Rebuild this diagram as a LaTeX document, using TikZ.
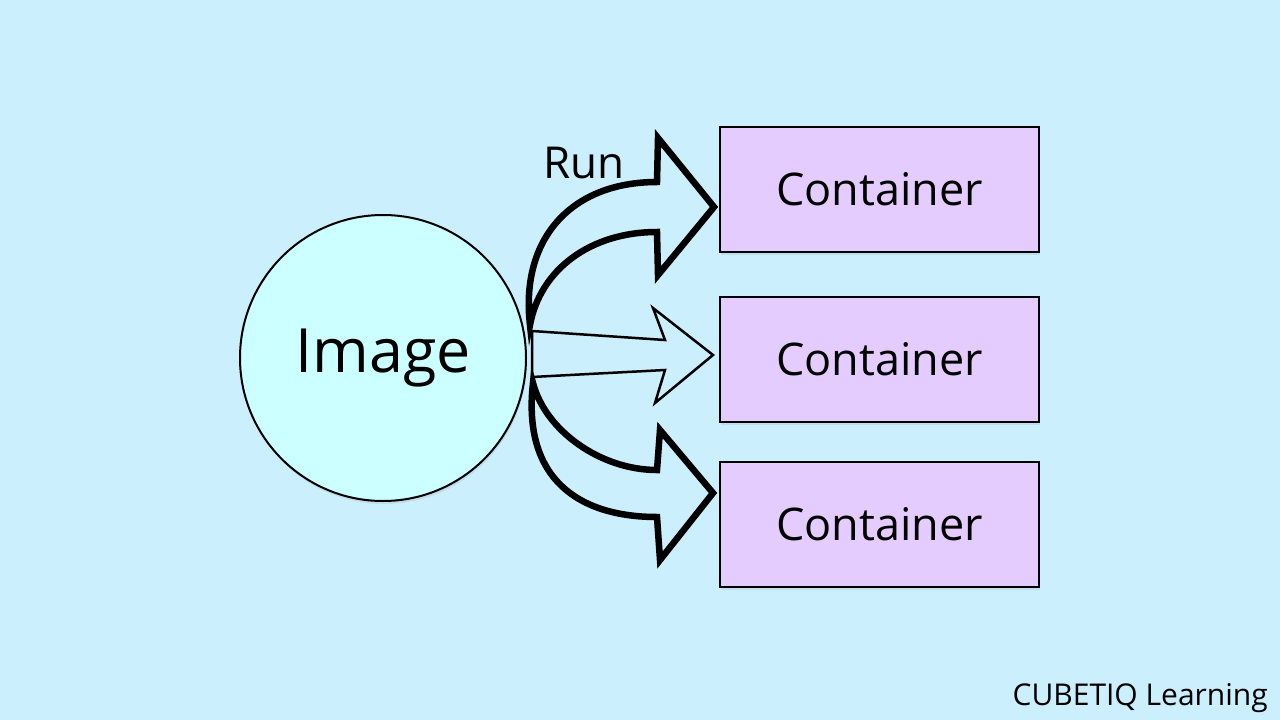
\documentclass[tikz,border=0pt]{standalone}
\usepackage{fontspec}
\setmainfont{Open Sans}
\usetikzlibrary{shadows}
\definecolor{bgc}{RGB}{204,239,253}
\definecolor{circc}{RGB}{204,255,255}
\definecolor{boxc}{RGB}{228,204,255}
\tikzset{
  shade/.style={drop shadow={opacity=0.15, shadow xshift=1pt, shadow yshift=-3pt}},
  cbox/.style={draw=black, line width=2pt, fill=boxc, shade, minimum width=319pt, minimum height=125pt, inner sep=0pt, font=\fontsize{45}{54}\selectfont},
  thickarrow/.style={draw=black, line width=6.5pt, line join=miter, miter limit=10, fill=bgc},
  thinarrow/.style={draw=black, line width=2.5pt, line join=miter, miter limit=10, fill=bgc},
}
\begin{document}
\begin{tikzpicture}[x=1pt,y=-1pt]
\fill[bgc] (0,0) rectangle (1280,720);
\useasboundingbox (0,0) rectangle (1280,720);
% image circle
\node[circle, draw=black, line width=2pt, fill=circc, shade, minimum size=286pt, inner sep=0pt,
  font=\fontsize{61}{70}\selectfont] (img) at (383,358) {Image};
% containers
\node[cbox] (c1) at (879.5,189.5) {Container};
\node[cbox] (c2) at (879.5,359) {Container};
\node[cbox] (c3) at (879.5,524) {Container};
% top curved arrow
\draw[thickarrow] (530,325) .. controls (520,240) and (570,182) .. (657,182) -- (658,138) -- (714,207) -- (658,275) -- (657,232) .. controls (590,232) and (540,270) .. (530,325) -- cycle;
% middle straight arrow
\draw[thinarrow] (532,331) -- (665,340) -- (653,308) -- (713,355) -- (655,403) -- (665,370) -- (532,377) -- cycle;
% bottom curved arrow
\draw[thickarrow] (533,383) .. controls (522,480) and (580,517) .. (657,517) -- (660,560) -- (713,493) -- (660,430) -- (657,470) .. controls (600,470) and (545,430) .. (533,383) -- cycle;
% labels
\node[anchor=base, font=\fontsize{44}{52}\selectfont, inner sep=0pt] (run) at (584,178) {Run};
\node[anchor=base east, font=\fontsize{30}{36}\selectfont, inner sep=0pt] (brand) at (1268,705) {CUBETIQ Learning};
\end{tikzpicture}
\end{document}
